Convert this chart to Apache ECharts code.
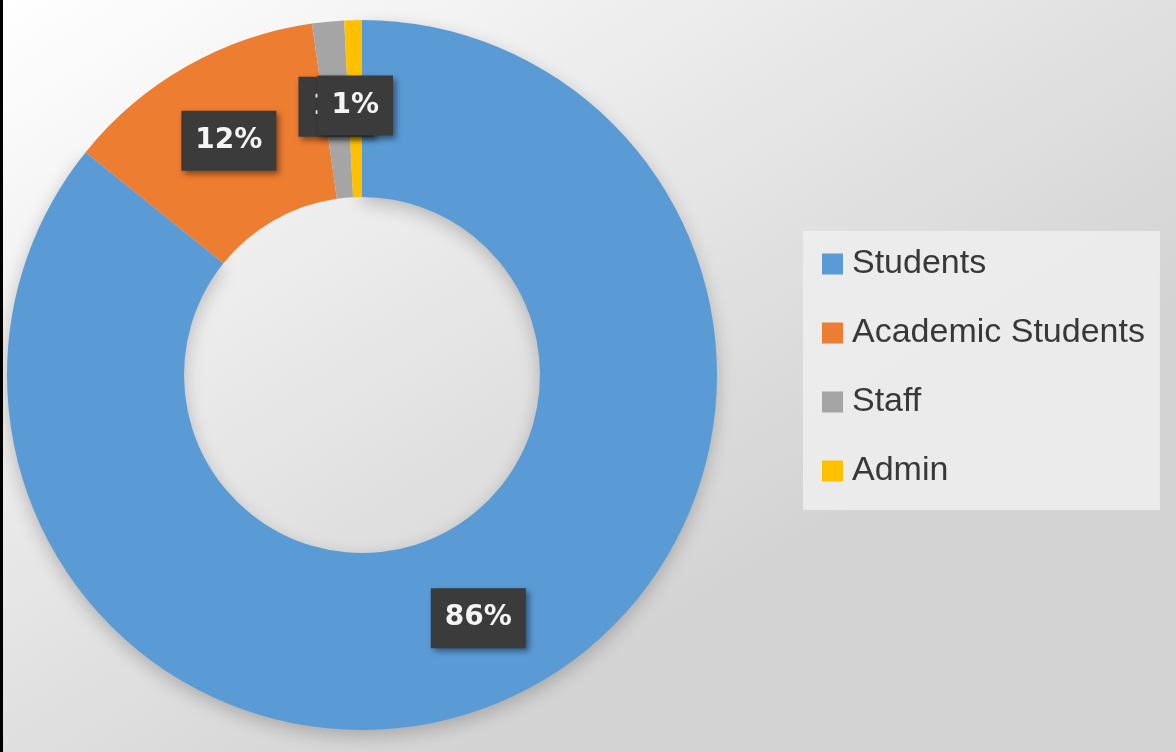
<!DOCTYPE html>
<html>
<head>
<meta charset="utf-8">
<script src="https://cdn.jsdelivr.net/npm/echarts@6/dist/echarts.min.js"></script>
<style>
  html, body { margin: 0; padding: 0; }
  #chart { width: 1176px; height: 752px; }
</style>
</head>
<body>
<div id="chart"></div>
<script>
  // slice shares (percent of the ring)
  const categories = ['Students', 'Academic Students', 'Staff', 'Admin'];
  const values = [85.8, 11.95, 1.45, 0.8];
  const colors = ['#5b9bd5', '#ed7d31', '#a5a5a5', '#ffc000'];

  const chart = echarts.init(document.getElementById('chart'));

  const option = {
    backgroundColor: {
      type: 'linear',
      x: 0,
      y: 0,
      x2: 0.4,
      y2: 1,
      colorStops: [
        { offset: 0, color: '#ffffff' },
        { offset: 1, color: '#d3d3d3' },
      ],
    },
    color: colors,
    animation: false,
    graphic: [
      {
        type: 'rect',
        shape: { x: 0, y: 0, width: 3, height: 752 },
        style: { fill: '#000' },
      },
    ],
    legend: {
      orient: 'vertical',
      left: 803,
      top: 231,
      padding: [13, 15, 19, 19],
      backgroundColor: 'rgba(238,238,238,0.85)',
      itemWidth: 21,
      itemHeight: 21,
      itemGap: 29,
      icon: 'rect',
      data: categories,
      textStyle: {
        fontFamily: 'Liberation Sans, Arial, sans-serif',
        fontSize: 34,
        lineHeight: 40,
        color: '#383838',
        padding: [0, 0, 0, 4],
      },
    },
    series: [
      {
        type: 'pie',
        center: [362, 375],
        radius: [178, 355],
        startAngle: 90,
        clockwise: true,
        avoidLabelOverlap: false,
        labelLayout: { hideOverlap: false },
        labelLine: { show: false },
        label: {
          show: true,
          position: 'inside',
          formatter: (p) => Math.round(p.value) + '%',
          fontFamily: 'DejaVu Sans, sans-serif',
          fontWeight: 'bold',
          fontSize: 28,
          color: '#f4f4f4',
          backgroundColor: '#3b3b3b',
          padding: [17, 14, 15, 14],
          shadowColor: 'rgba(0,0,0,0.45)',
          shadowBlur: 6,
          shadowOffsetX: 3,
          shadowOffsetY: 3,
        },
        emphasis: { disabled: true },
        data: categories.map((name, i) => ({
          name,
          value: values[i],
          // soft drop shadow under the big ring segment
          itemStyle: i === 0
            ? { shadowColor: 'rgba(0,0,0,0.22)', shadowBlur: 18, shadowOffsetY: 6 }
            : {},
        })),
      },
    ],
  };

  chart.setOption(option);
</script>
</body>
</html>
